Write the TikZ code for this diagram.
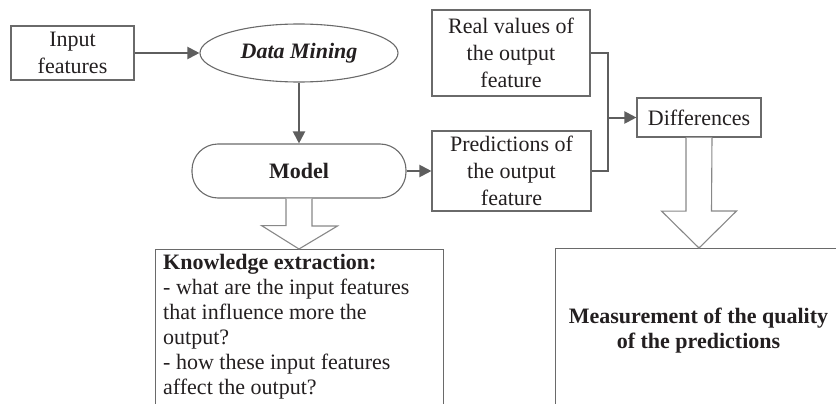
\documentclass[tikz,border=0pt]{standalone}
\usepackage{fontspec}
\setmainfont{Liberation Serif}
\usetikzlibrary{shapes.geometric,arrows.meta,calc}
\definecolor{txt}{HTML}{231F20}
\definecolor{ln}{HTML}{6A6A6A}
\definecolor{ar}{HTML}{5E5E5E}
\begin{document}
\begin{tikzpicture}[x=1pt,y=1pt,
  every node/.style={text=txt},
  sbox/.style={draw=ln,line width=1.1pt,inner sep=0pt,align=center,
    font=\fontsize{22}{27}\selectfont},
  bigbox/.style={draw=ln,line width=1.1pt,inner sep=0pt,anchor=north west},
  conn/.style={draw=ar,line width=2pt},
  arr/.style={conn,-{Triangle[length=12pt,width=12pt]}},
  hollow/.style={draw=ln!80,line width=1.1pt,fill=white,line join=miter}]
\useasboundingbox (0,0) rectangle (836,-404);
\clip (0,0) rectangle (836,-404);

\node[sbox,minimum width=123,minimum height=54] (inp) at (72.5,-53) {Input\\features};
\node[sbox,ellipse,minimum width=198,minimum height=58] (dm) at (299,-53)
  {\textbf{\textit{Data Mining}}};
\node[sbox,rounded corners=26pt,minimum width=214,minimum height=54] (model) at (299,-171)
  {\textbf{Model}};
\node[sbox,minimum width=158,minimum height=86] (real) at (511,-53)
  {Real values of\\the output\\feature};
\node[sbox,minimum width=159,minimum height=80] (pred) at (511.5,-171)
  {Predictions of\\the output\\feature};
\node[sbox,minimum width=124,minimum height=39] (diff) at (699,-117.5) {Differences};

\node[bigbox,minimum width=288,minimum height=220] (know) at (155,-249) {};
\node[anchor=north west,inner sep=0pt,align=left,font=\fontsize{22}{25}\selectfont]
  (knowtext) at (163,-254.5)
  {\textbf{Knowledge extraction:}\\- what are the input features\\that influence more the\\output?\\- how these input features\\affect the output?};
\node[bigbox,minimum width=330,minimum height=220] (meas) at (555,-248) {};
\node[anchor=north,inner sep=0pt,align=center,font=\fontsize{22}{25}\selectfont\bfseries]
  (meastext) at (698.5,-308)
  {Measurement of the quality\\of the predictions};

% connectors
\draw[arr] (inp.east) -- (dm.west);
\draw[arr] (dm.south) -- (model.north);
\draw[arr] (model.east) -- (pred.west);
\coordinate (j) at (608,-117.5);
\draw[conn] (real.east) -| (j) |- (pred.east);
\draw[arr] (j) -- (diff.west);

% hollow arrows
\draw[hollow] ($(model.south)+(-13,0)$) -- ++(0,-27) -- ++(-24.5,0)
  -- (model.south |- know.north) -- ++(38.5,23)
  -- ++(-25.5,0) -- ($(model.south)+(13,0)$);
\draw[hollow] ($(diff.south)+(-13,0)$) -- ++(0,-73.5) -- ++(-24.5,0)
  -- (diff.south |- meas.north) -- ++(37.5,37) -- ++(-25,0) -- ($(diff.south)+(13,0)$);
\end{tikzpicture}
\end{document}
